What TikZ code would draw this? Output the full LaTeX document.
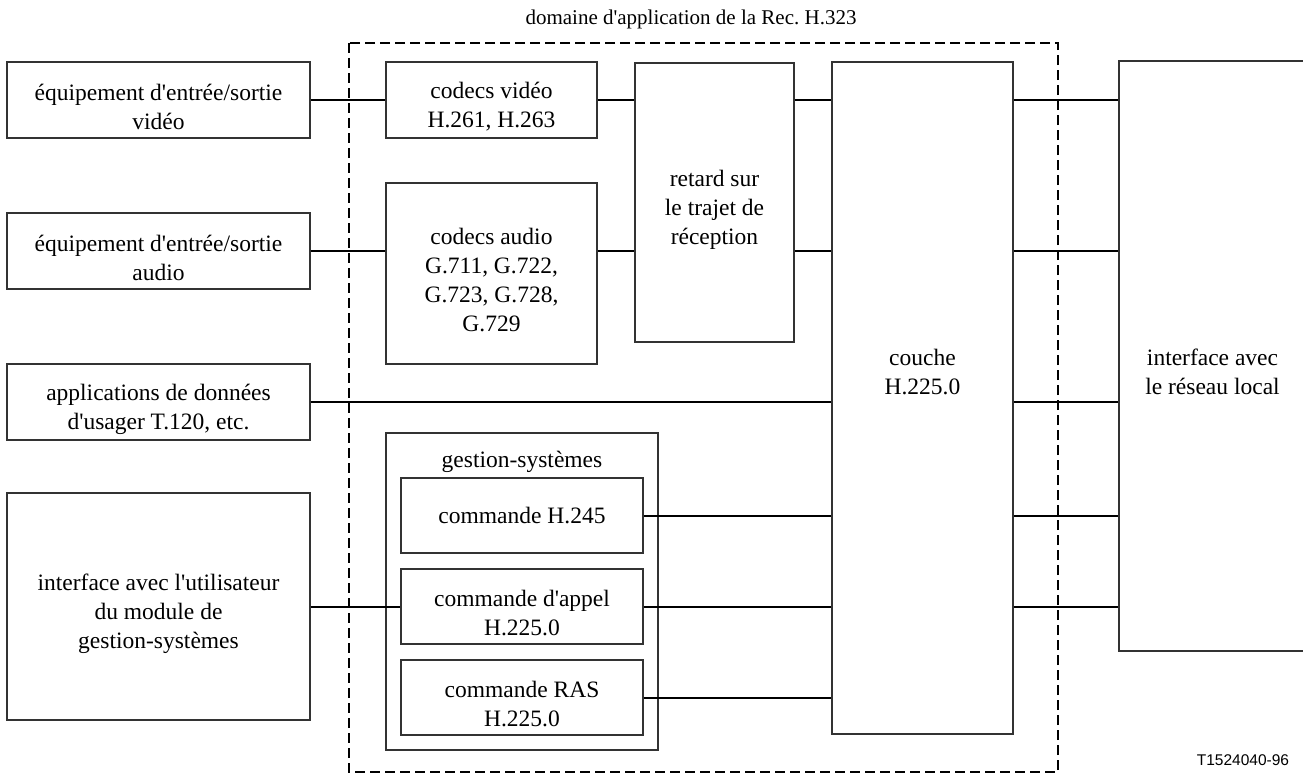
\documentclass[tikz,border=0pt]{standalone}
\usepackage{fontspec}
\setmainfont{Liberation Serif}[Ligatures=TeXOff]
\newfontfamily\reffont{Liberation Sans}
\frenchspacing

\begin{document}
\begin{tikzpicture}[x=1pt,y=1pt,yscale=-1,xscale=1,
	boxtext/.style={align=center, font=\fontsize{23.5}{29}\selectfont},
	box/.style={draw=black!80, line width=1.1pt, inner sep=2pt, boxtext},
	boxlabel/.style={label={[boxtext, yshift=-7pt]center:#1}},
	link/.style={line width=2pt},
	domainbox/.style={line width=2pt, dash pattern=on 10pt off 5pt}]
	\useasboundingbox (0,0) rectangle (1303,776);
	% domaine H.323
	\draw [domainbox] (349,43) rectangle (1058,772);
	\node [font=\fontsize{21}{25}\selectfont] (titre) at (691,19) {domaine d'application de la Rec. H.323};
	% equipements externes
	\node [box, minimum width=303pt, minimum height=76pt, boxlabel={équipement d'entrée/sortie\\vidéo}] (vio) at (158.5,100) {};
	\node [box, minimum width=303pt, minimum height=76pt, boxlabel={équipement d'entrée/sortie\\audio}] (aio) at (158.5,251) {};
	\node [box, minimum width=303pt, minimum height=76pt, boxlabel={applications de données\\d'usager T.120, etc.}] (app) at (158.5,402) {};
	\node [box, minimum width=303pt, minimum height=227pt, boxlabel={interface avec l'utilisateur\\du module de\\gestion-systèmes}] (uif) at (158.5,606.5) {};
	% codecs et retard
	\node [box, minimum width=211pt, minimum height=76pt, boxlabel={codecs vidéo\\H.261, H.263}] (cvid) at (491.5,100) {};
	\node [box, minimum width=211pt, minimum height=181pt, boxlabel={codecs audio\\G.711, G.722,\\G.723, G.728,\\G.729}] (caud) at (491.5,273.5) {};
	\node [box, minimum width=159pt, minimum height=279pt, boxlabel={retard sur\\le trajet de\\réception}] (ret) at (714.5,202.5) {};
	% gestion-systemes
	\node [box, minimum width=272pt, minimum height=317pt] (gest) at (522,591.5) {};
	\node [boxtext] (gestt) at (522,462) {gestion-systèmes};
	\node [box, minimum width=242pt, minimum height=75pt] (h245) at (522,515.5) {commande H.245};
	\node [box, minimum width=242pt, minimum height=75pt, boxlabel={commande d'appel\\H.225.0}] (appel) at (522,606.5) {};
	\node [box, minimum width=242pt, minimum height=75pt, boxlabel={commande RAS\\H.225.0}] (ras) at (522,697.5) {};
	% couche et reseau local
	\node [box, minimum width=181pt, minimum height=672pt, label={[boxtext, yshift=26pt]center:couche\\H.225.0}] (couche) at (922.5,398) {};
	\node [box, minimum width=187pt, minimum height=590pt, label={[boxtext, yshift=-16pt]center:interface avec\\le réseau local}] (lan) at (1212.5,356) {};
	% liaisons
	\draw [link] (vio.east) -- (vio.east -| cvid.west);
	\draw [link] (aio.east) -- (aio.east -| caud.west);
	\draw [link] (app.east) -- (app.east -| couche.west);
	\draw [link] (uif.east) -- (uif.east -| appel.west);
	\foreach \n in {vio,aio}
		\draw [link] (\n.east -| cvid.east) -- (\n.east -| ret.west);
	\foreach \n in {vio,aio}
		\draw [link] (\n.east -| ret.east) -- (\n.east -| couche.west);
	\foreach \n in {h245,appel,ras}
		\draw [link] (\n.east) -- (\n.east -| couche.west);
	\foreach \n in {vio,aio,app,h245,appel}
		\draw [link] (\n.east -| couche.east) -- (\n.east -| lan.west);
	\node [font=\reffont\fontsize{15.5}{18}\selectfont] (ref) at (1243,760) {T1524040-96};
\end{tikzpicture}
\end{document}
